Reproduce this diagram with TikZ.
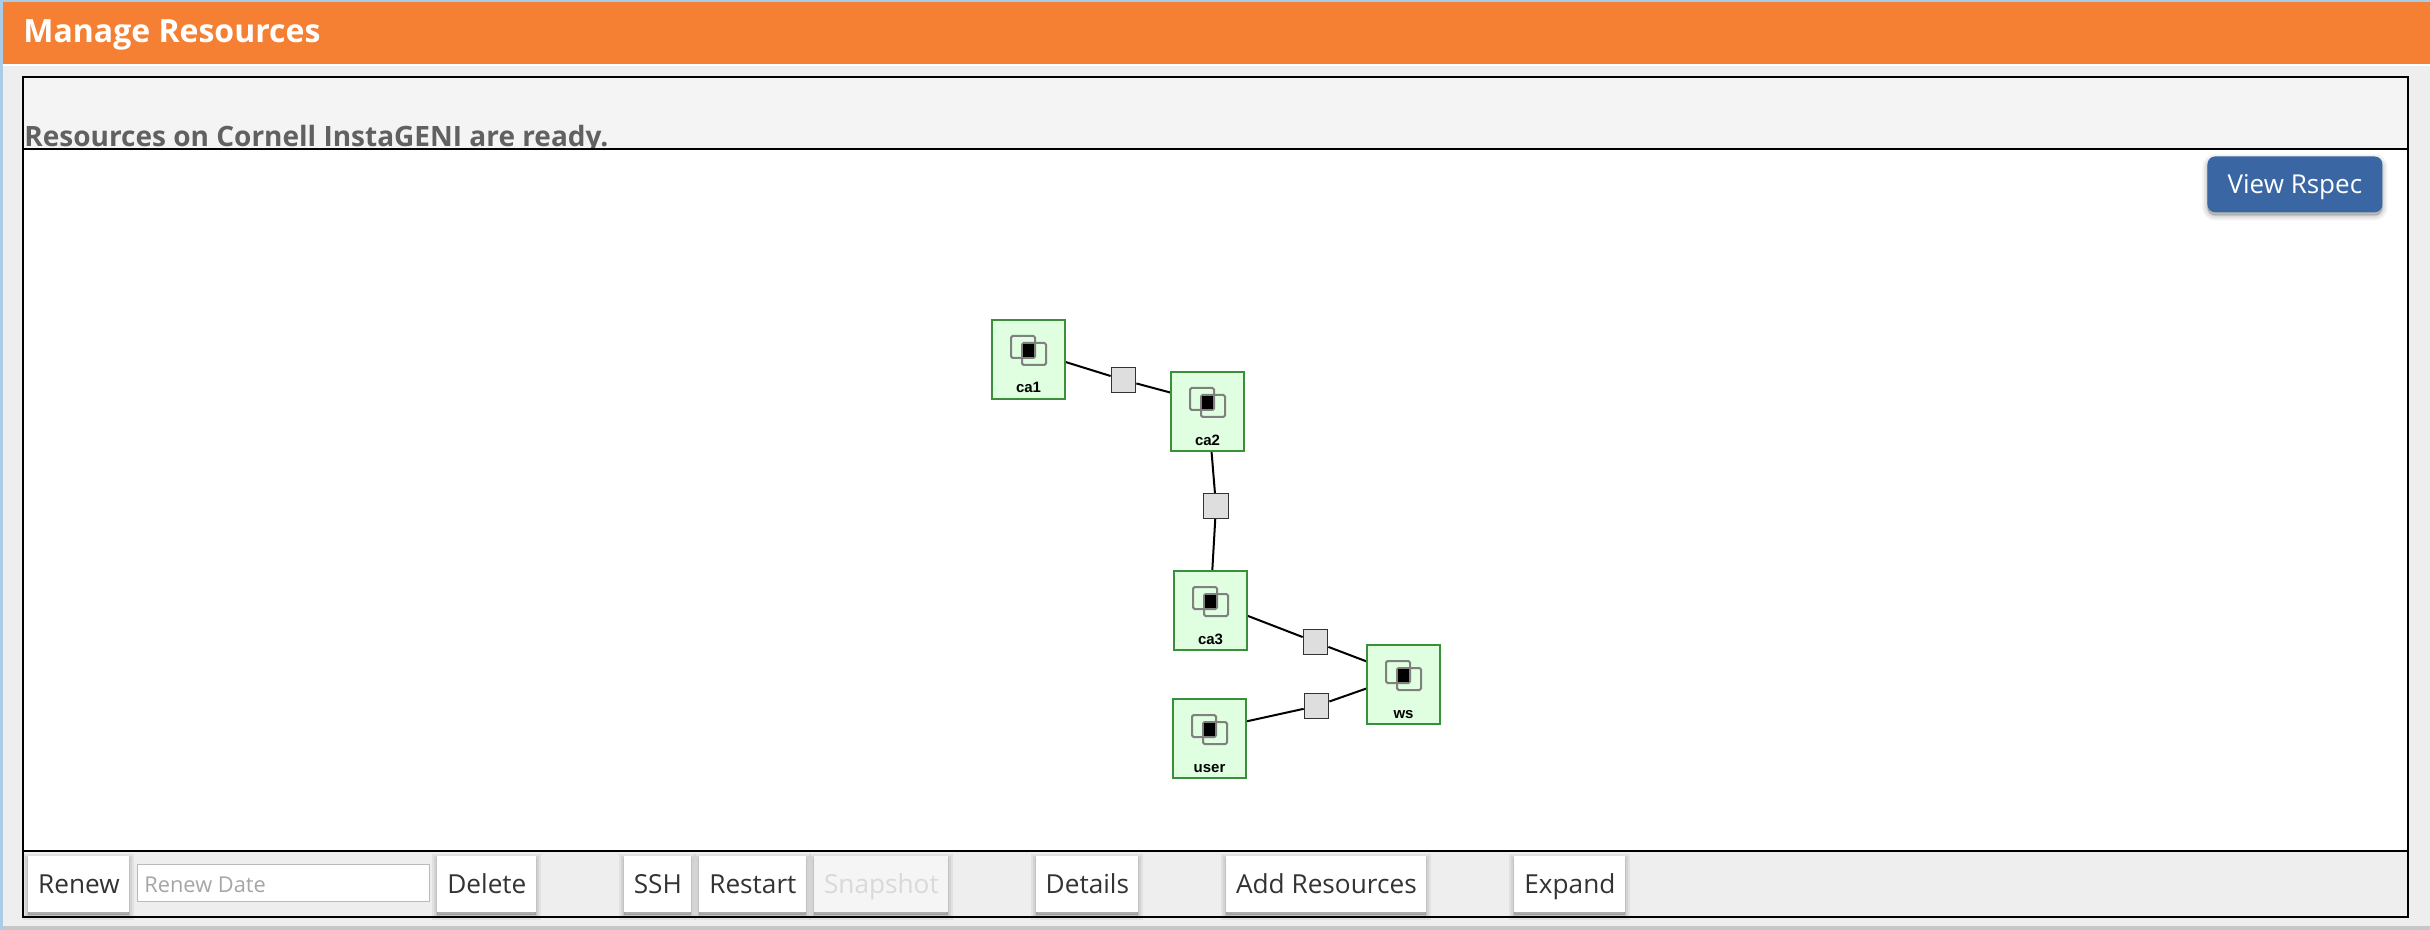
\documentclass[tikz,border=0pt]{standalone}
\usepackage{fontspec}
\setmainfont{Open Sans}
\newfontfamily\vmfont{Liberation Sans}
\usetikzlibrary{backgrounds}

\definecolor{barorange}{HTML}{F58033}
\definecolor{pagegray}{HTML}{EEEEEE}
\definecolor{statusgray}{HTML}{F4F4F4}
\definecolor{edgeblue}{HTML}{A9CCE8}
\definecolor{specblue}{HTML}{3A67A3}
\definecolor{vmfill}{HTML}{E0FFE0}
\definecolor{vmedge}{HTML}{3A8F3A}

\tikzset{
    softshadow/.style = {
        preaction = {draw = black, fill = black, opacity = 0.05, line width = 5pt, transform canvas = {yshift = -1.5pt}},
        preaction = {draw = black, fill = black, opacity = 0.06, line width = 3pt, transform canvas = {yshift = -1.5pt}},
        preaction = {draw = black, fill = black, opacity = 0.08, line width = 1pt, transform canvas = {yshift = -1.5pt}}
    },
    btn/.style = {
        anchor = north west,
        fill = white,
        softshadow,
        minimum height = 28pt,
        inner sep = 0pt,
        text height = 11.5pt,
        text depth = 2.5pt,
        text = black!80,
        font = \fontsize{13.1}{14}\selectfont
    },
    vm/.style = {
        draw = vmedge,
        line width = 0.6pt,
        fill = vmfill,
        minimum width = 36.5pt,
        minimum height = 39.5pt,
        inner sep = 0pt
    },
    vmlabel/.style = {
        anchor = base,
        inner sep = 0pt,
        font = \vmfont\bfseries\fontsize{7.5}{8}\selectfont
    },
    lan/.style = {
        draw = black!80,
        line width = 0.65pt,
        fill = black!13,
        minimum size = 12.2pt,
        inner sep = 0pt
    },
    link/.style = {draw = black, line width = 1pt},
    iconpart/.style = {draw = black!50, line width = 1pt, rounded corners = 0.8pt}
}

% box of one machine, with its icon and its label
\newcommand{\vmnode}[4]{
    \node[vm] (#1) at (#2,#3) {};
    \node[inner sep = 0pt, minimum size = 0pt] (#1icon) at (#2,#3-9) {};
    \draw[iconpart] (#2-17.5,#3-23.5) rectangle ++(24,22);
    \draw[iconpart] (#2-6.5,#3-16.5) rectangle ++(24,22);
    \fill[black] (#2-5.5,#3-15.5) rectangle ++(11,13);
    \node[vmlabel] (#1label) at (#2,#3+33.5) {#4};
}

\begin{document}
\begin{tikzpicture}[x = 0.5pt, y = -0.5pt]
    \useasboundingbox (0,0) rectangle (2430,930);

    \begin{scope}[on background layer]
        % page
        \fill[edgeblue] (0,0) rectangle (2430,930);
        \fill[pagegray] (3,2) rectangle (2430,926);
        \fill[black!22] (3,926) rectangle (2430,930);
        \fill[white] (3,64) rectangle (2430,66);
        \fill[barorange] (3,2) rectangle (2430,64);
        \node[anchor = base west, inner sep = 0pt, text = white, font = \bfseries\fontsize{16}{18}\selectfont] (title) at (23,43) {Manage Resources};

        % panel
        \fill[statusgray] (23,77) rectangle (2408,149);
        \node[anchor = base west, inner sep = 0pt, text = black!62, font = \bfseries\fontsize{14}{17}\selectfont] (status) at (24,147) {Resources on Cornell InstaGENI are ready.};
        \fill[white] (23,149) rectangle (2408,851);
        \draw[line width = 1pt] (23,77) rectangle (2408,917);
        \draw[line width = 1pt] (23,149) -- (2408,149);
        \draw[line width = 1pt] (23,851) -- (2408,851);
    \end{scope}

    \node[btn, fill = specblue, rounded corners = 4pt, minimum width = 87.5pt, text = white, font = \fontsize{13}{14}\selectfont] (viewrspec) at (2207,156) {View Rspec};

    % machines
    \vmnode{ca1}{1028.5}{359.5}{ca1}
    \vmnode{ca2}{1207.5}{411.5}{ca2}
    \vmnode{ca3}{1210.5}{610.5}{ca3}
    \vmnode{user}{1209.5}{738.5}{user}
    \vmnode{ws}{1403.5}{684.5}{ws}

    % lans
    \node[lan] (lan1) at (1123.5,380) {};
    \node[lan] (lan2) at (1216,506) {};
    \node[lan] (lan3) at (1315.5,642) {};
    \node[lan] (lan4) at (1316.5,706) {};

    \begin{scope}[on background layer]
        \draw[link] (ca1icon) -- (lan1);
        \draw[link] (lan1) -- (ca2icon);
        \draw[link] (ca2icon) -- (lan2);
        \draw[link] (lan2) -- (ca3icon);
        \draw[link] (ca3icon) -- (lan3);
        \draw[link] (lan3) -- (wsicon);
        \draw[link] (usericon) -- (lan4);
        \draw[link] (lan4) -- (wsicon);
    \end{scope}

    % buttons
    \node[btn, minimum width = 50.5pt] (renew) at (28,856) {Renew};
    \node[anchor = north west, draw = black!27, fill = white, line width = 0.5pt, minimum width = 146pt, minimum height = 18.5pt, inner sep = 0pt] (renewdate) at (137,864) {};
    \node[anchor = base west, inner sep = 0pt, text = black!35, font = \fontsize{10.9}{13}\selectfont] (renewdatetext) at (144,892) {Renew Date};
    \node[btn, minimum width = 49.5pt] (delete) at (437,856) {Delete};
    \node[btn, minimum width = 33.5pt] (ssh) at (624,856) {SSH};
    \node[btn, minimum width = 53.5pt] (restart) at (699,856) {Restart};
    \node[btn, minimum width = 67pt, fill = black!4, text = black!15] (snapshot) at (814,856) {Snapshot};
    \node[btn, minimum width = 51pt] (details) at (1036,856) {Details};
    \node[btn, minimum width = 100pt] (addres) at (1226,856) {Add Resources};
    \node[btn, minimum width = 55.5pt] (expand) at (1514,856) {Expand};
\end{tikzpicture}
\end{document}
